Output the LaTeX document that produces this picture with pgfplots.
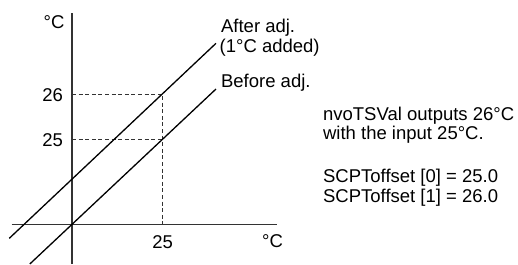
\documentclass[border=0pt]{standalone}
\usepackage{pgfplots}
\pgfplotsset{compat=1.18}
\usepackage{fontspec}
\setmainfont{Liberation Sans}
\newcommand\f{\fontsize{9.25bp}{10bp}\selectfont}
\begin{document}
\begin{tikzpicture}
\begin{axis}[
  x=0.5bp, y=0.5bp,
  xmin=-60.3, xmax=204.7, ymin=-39.7, ymax=211,
  axis lines=middle,
  axis line style={-, line width=0.65bp, color=black!80},
  every inner x axis line/.append style={-},
  every inner y axis line/.append style={-},
  clip=false,
  major tick length=0pt,
  xtick={90.7}, xticklabels={25},
  ytick={85,130}, yticklabels={25,26},
  /pgf/number format/assume math mode=true,
  xticklabel style={font=\f, anchor=north, inner sep=0pt, yshift=-5.35bp},
  yticklabel style={font=\f, anchor=east, inner sep=0pt, xshift=-4.35bp, yshift=-0.6bp},
]
% dashed guides
\addplot[black!80, line width=0.5bp, dash pattern=on 2bp off 1.3bp] coordinates {(0,130) (90.7,130) (90.7,0)};
\addplot[black!80, line width=0.5bp, dash pattern=on 2bp off 1.3bp] coordinates {(0,85) (90.7,85)};
% lines
\addplot[black, line width=0.65bp] coordinates {(-42.2,-39.7) (144,135.3)};
\addplot[black, line width=0.65bp] coordinates {(-62.7,-14) (144,181)};
% labels
\node[font=\f, anchor=base west, inner sep=0pt] at (axis cs:-28.7,196) {°C};
\node[font=\f, anchor=base west, inner sep=0pt] at (axis cs:189.7,-23.4) {°C};
\node[font=\f, anchor=base west, inner sep=0pt] at (axis cs:148.7,192.3) {After adj.};
\node[font=\f, anchor=base west, inner sep=0pt] at (axis cs:147.3,172.3) {(1°C added)};
\node[font=\f, anchor=base west, inner sep=0pt] at (axis cs:148.7,137.3) {Before adj.};
\node[font=\f, anchor=base west, inner sep=0pt] at (axis cs:250.7,104.3) {nvoTSVal outputs 26°C};
\node[font=\f, anchor=base west, inner sep=0pt] at (axis cs:250.7,84.5) {with the input 25°C.};
\node[font=\f, anchor=base west, inner sep=0pt] at (axis cs:250.7,42) {SCPToffset [0] = 25.0};
\node[font=\f, anchor=base west, inner sep=0pt] at (axis cs:250.7,22) {SCPToffset [1] = 26.0};
\coordinate (bl) at (axis cs:-72,-39.7);
\coordinate (tr) at (axis cs:446,224.3);
\end{axis}
\pgfresetboundingbox
\path[use as bounding box] (bl) rectangle (tr);
\end{tikzpicture}
\end{document}
